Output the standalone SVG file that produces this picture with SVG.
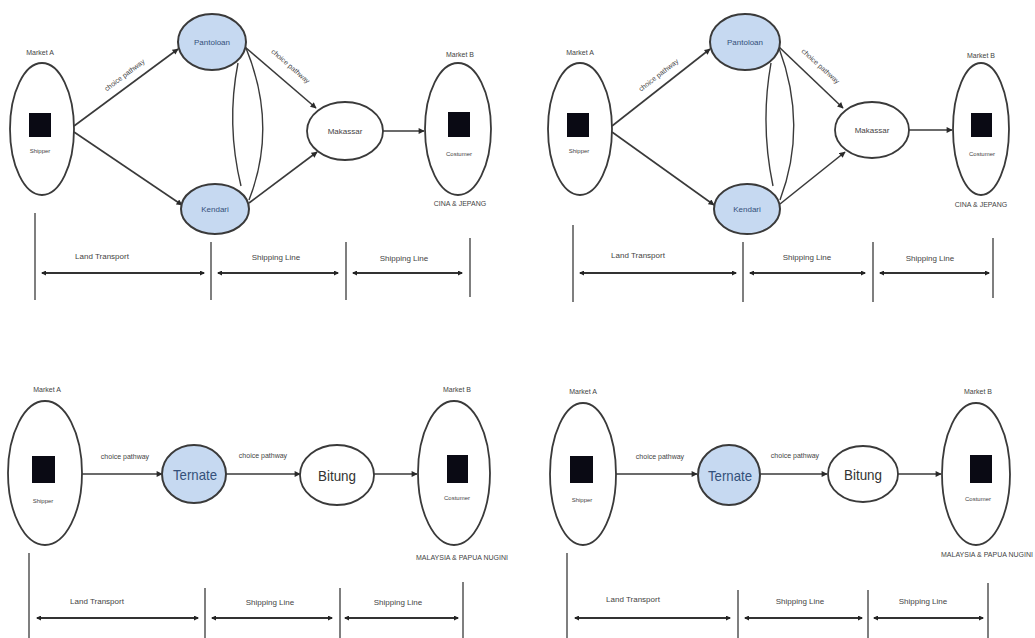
<svg xmlns="http://www.w3.org/2000/svg" width="1035" height="638" viewBox="0 0 1035 638">
<style>
.node{fill:#ffffff;stroke:#3a3a3a;stroke-width:1.8}
.port{fill:#c6d9f1;stroke:#3a3a3a;stroke-width:2}
.box{fill:#0a0a14}
.t{font-family:"Liberation Sans",Arial,sans-serif;fill:#444;text-anchor:middle}
.s6{font-size:6px}
.s7{font-size:7px}
.s8{font-size:8px}
.big{font-size:15px;fill:#333}
.blue{fill:#34507a}
.edge{stroke:#3a3a3a;stroke-width:1.6;fill:none;marker-end:url(#ah)}
.arc{stroke:#3a3a3a;stroke-width:1.4;fill:none}
.vl{stroke:#555;stroke-width:1.5}
.dim{stroke:#333;stroke-width:2.2;marker-start:url(#dh);marker-end:url(#dh)}
</style>
<defs>
<marker id="ah" viewBox="0 0 10 10" refX="9" refY="5" markerWidth="7" markerHeight="6" markerUnits="userSpaceOnUse" orient="auto"><path d="M0 0 L10 5 L0 10 z" fill="#2a2a2a"/></marker>
<marker id="dh" viewBox="0 0 10 10" refX="8" refY="5" markerWidth="6" markerHeight="5" markerUnits="userSpaceOnUse" orient="auto-start-reverse"><path d="M0 0 L10 5 L0 10 z" fill="#222"/></marker>
</defs>

<!-- connectors -->
<g id="connectors">
  <!-- top-left -->
  <line class="edge" x1="74" y1="126" x2="178" y2="49"/>
  <line class="edge" x1="74" y1="132" x2="182" y2="205"/>
  <line class="edge" x1="245" y1="47" x2="316" y2="108"/>
  <line class="edge" x1="249" y1="203" x2="317" y2="152"/>
  <line class="edge" x1="383" y1="131" x2="424" y2="131"/>
  <path class="arc" d="M246 48 Q278 126 249 200"/>
  <path class="arc" d="M238 63 Q226 124 241 186"/>
  <!-- top-right -->
  <line class="edge" x1="612" y1="126" x2="710" y2="49"/>
  <line class="edge" x1="612" y1="132" x2="714" y2="205"/>
  <line class="edge" x1="779" y1="47" x2="843" y2="108"/>
  <line class="edge" x1="780" y1="204" x2="845" y2="152"/>
  <line class="edge" x1="909" y1="130" x2="952" y2="130"/>
  <path class="arc" d="M779 48 Q808 126 780 200"/>
  <path class="arc" d="M771 63 Q760 124 773 186"/>
  <!-- bottom-left -->
  <line class="edge" x1="82" y1="474" x2="162" y2="474"/>
  <line class="edge" x1="226" y1="474" x2="300" y2="474"/>
  <line class="edge" x1="374" y1="474" x2="417" y2="474"/>
  <!-- bottom-right -->
  <line class="edge" x1="616" y1="474" x2="697" y2="474"/>
  <line class="edge" x1="760" y1="474" x2="827" y2="474"/>
  <line class="edge" x1="898" y1="474" x2="941" y2="474"/>
</g>

<g id="edge-labels">
  <text class="t s7" transform="translate(126,77) rotate(-37)">choice pathway</text>
  <text class="t s7" transform="translate(289,68) rotate(41)">choice pathway</text>
  <text class="t s7" transform="translate(660,77) rotate(-38)">choice pathway</text>
  <text class="t s7" transform="translate(819,68) rotate(42)">choice pathway</text>
  <text class="t s7" x="125" y="459">choice pathway</text>
  <text class="t s7" x="263" y="458">choice pathway</text>
  <text class="t s7" x="660" y="459">choice pathway</text>
  <text class="t s7" x="795" y="458">choice pathway</text>
</g>

<!-- ===== top-left panel ===== -->
<g id="tl-marketA">
  <text class="t s7" x="40" y="55">Market A</text>
  <ellipse class="node" cx="42" cy="129" rx="32" ry="66"/>
  <rect class="box" x="29" y="113" width="22" height="24"/>
  <text class="t s6" x="40" y="153">Shipper</text>
</g>
<g id="tl-pantoloan">
  <ellipse class="port" cx="212" cy="42" rx="34" ry="28"/>
  <text class="t s8 blue" x="212" y="45">Pantoloan</text>
</g>
<g id="tl-kendari">
  <ellipse class="port" cx="215" cy="209" rx="34" ry="25"/>
  <text class="t s8 blue" x="215" y="212">Kendari</text>
</g>
<g id="tl-makassar">
  <ellipse class="node" cx="345" cy="131" rx="38" ry="29"/>
  <text class="t s8" x="345" y="134">Makassar</text>
</g>
<g id="tl-marketB">
  <text class="t s7" x="460" y="57">Market B</text>
  <ellipse class="node" cx="458" cy="129" rx="33" ry="66"/>
  <rect class="box" x="448" y="112" width="22" height="25"/>
  <text class="t s6" x="459" y="156">Costumer</text>
  <text class="t s7" x="460" y="206">CINA &amp; JEPANG</text>
</g>
<g id="tl-scale">
  <line class="vl" x1="35" y1="213" x2="35" y2="300"/>
  <line class="vl" x1="211" y1="242" x2="211" y2="300"/>
  <line class="vl" x1="346" y1="242" x2="346" y2="300"/>
  <line class="vl" x1="470" y1="238" x2="470" y2="297"/>
  <line class="dim" x1="42" y1="273" x2="204" y2="273"/>
  <line class="dim" x1="218" y1="273" x2="338" y2="273"/>
  <line class="dim" x1="353" y1="273" x2="462" y2="273"/>
  <text class="t s8" x="102" y="259">Land Transport</text>
  <text class="t s8" x="276" y="260">Shipping Line</text>
  <text class="t s8" x="404" y="261">Shipping Line</text>
</g>

<!-- ===== top-right panel ===== -->
<g id="tr-marketA">
  <text class="t s7" x="580" y="55">Market A</text>
  <ellipse class="node" cx="580" cy="129" rx="32" ry="66"/>
  <rect class="box" x="567" y="113" width="22" height="24"/>
  <text class="t s6" x="579" y="153">Shipper</text>
</g>
<g id="tr-pantoloan">
  <ellipse class="port" cx="745" cy="42" rx="35" ry="28"/>
  <text class="t s8 blue" x="745" y="45">Pantoloan</text>
</g>
<g id="tr-kendari">
  <ellipse class="port" cx="747" cy="209" rx="33" ry="25"/>
  <text class="t s8 blue" x="747" y="212">Kendari</text>
</g>
<g id="tr-makassar">
  <ellipse class="node" cx="872" cy="130" rx="37" ry="28"/>
  <text class="t s8" x="872" y="133">Makassar</text>
</g>
<g id="tr-marketB">
  <text class="t s7" x="981" y="58">Market B</text>
  <ellipse class="node" cx="981" cy="129" rx="28" ry="66"/>
  <rect class="box" x="971" y="113" width="21" height="24"/>
  <text class="t s6" x="982" y="156">Costumer</text>
  <text class="t s7" x="981" y="207">CINA &amp; JEPANG</text>
</g>
<g id="tr-scale">
  <line class="vl" x1="573" y1="225" x2="573" y2="302"/>
  <line class="vl" x1="743" y1="242" x2="743" y2="302"/>
  <line class="vl" x1="873" y1="242" x2="873" y2="302"/>
  <line class="vl" x1="993" y1="238" x2="993" y2="298"/>
  <line class="dim" x1="580" y1="273" x2="736" y2="273"/>
  <line class="dim" x1="750" y1="273" x2="865" y2="273"/>
  <line class="dim" x1="880" y1="273" x2="989" y2="273"/>
  <text class="t s8" x="638" y="258">Land Transport</text>
  <text class="t s8" x="807" y="260">Shipping Line</text>
  <text class="t s8" x="930" y="261">Shipping Line</text>
</g>

<!-- ===== bottom-left panel ===== -->
<g id="bl-marketA">
  <text class="t s7" x="47" y="392">Market A</text>
  <ellipse class="node" cx="45" cy="473" rx="37" ry="72"/>
  <rect class="box" x="32" y="456" width="23" height="27"/>
  <text class="t s6" x="43" y="503">Shipper</text>
</g>
<g id="bl-ternate">
  <ellipse class="port" cx="194" cy="474" rx="32" ry="29"/>
  <text class="t big blue" x="195" y="480" textLength="44" lengthAdjust="spacingAndGlyphs">Ternate</text>
</g>
<g id="bl-bitung">
  <ellipse class="node" cx="337" cy="475" rx="37" ry="30"/>
  <text class="t big" x="337" y="481" textLength="38" lengthAdjust="spacingAndGlyphs">Bitung</text>
</g>
<g id="bl-marketB">
  <text class="t s7" x="457" y="392">Market B</text>
  <ellipse class="node" cx="454" cy="473" rx="36" ry="72"/>
  <rect class="box" x="447" y="455" width="21" height="28"/>
  <text class="t s6" x="457" y="500">Costumer</text>
  <text class="t s7" x="462" y="560">MALAYSIA &amp; PAPUA NUGINI</text>
</g>
<g id="bl-scale">
  <line class="vl" x1="29" y1="553" x2="29" y2="638"/>
  <line class="vl" x1="205" y1="588" x2="205" y2="638"/>
  <line class="vl" x1="340" y1="588" x2="340" y2="638"/>
  <line class="vl" x1="463" y1="582" x2="463" y2="638"/>
  <line class="dim" x1="37" y1="618" x2="198" y2="618"/>
  <line class="dim" x1="212" y1="618" x2="332" y2="618"/>
  <line class="dim" x1="345" y1="618" x2="458" y2="618"/>
  <text class="t s8" x="97" y="604">Land Transport</text>
  <text class="t s8" x="270" y="605">Shipping Line</text>
  <text class="t s8" x="398" y="605">Shipping Line</text>
</g>

<!-- ===== bottom-right panel ===== -->
<g id="br-marketA">
  <text class="t s7" x="583" y="394">Market A</text>
  <ellipse class="node" cx="583" cy="474" rx="33" ry="71"/>
  <rect class="box" x="570" y="456" width="23" height="27"/>
  <text class="t s6" x="582" y="502">Shipper</text>
</g>
<g id="br-ternate">
  <ellipse class="port" cx="729" cy="475" rx="31" ry="30"/>
  <text class="t big blue" x="730" y="481" textLength="44" lengthAdjust="spacingAndGlyphs">Ternate</text>
</g>
<g id="br-bitung">
  <ellipse class="node" cx="863" cy="474" rx="35" ry="28"/>
  <text class="t big" x="863" y="480" textLength="38" lengthAdjust="spacingAndGlyphs">Bitung</text>
</g>
<g id="br-marketB">
  <text class="t s7" x="978" y="394">Market B</text>
  <ellipse class="node" cx="976" cy="474" rx="34" ry="71"/>
  <rect class="box" x="970" y="455" width="22" height="28"/>
  <text class="t s6" x="978" y="501">Costumer</text>
  <text class="t s7" x="987" y="557">MALAYSIA &amp; PAPUA NUGINI</text>
</g>
<g id="br-scale">
  <line class="vl" x1="567" y1="553" x2="567" y2="638"/>
  <line class="vl" x1="738" y1="590" x2="738" y2="638"/>
  <line class="vl" x1="868" y1="590" x2="868" y2="638"/>
  <line class="vl" x1="988" y1="583" x2="988" y2="638"/>
  <line class="dim" x1="575" y1="618" x2="730" y2="618"/>
  <line class="dim" x1="745" y1="618" x2="862" y2="618"/>
  <line class="dim" x1="874" y1="618" x2="983" y2="618"/>
  <text class="t s8" x="633" y="602">Land Transport</text>
  <text class="t s8" x="800" y="604">Shipping Line</text>
  <text class="t s8" x="923" y="604">Shipping Line</text>
</g>
</svg>
